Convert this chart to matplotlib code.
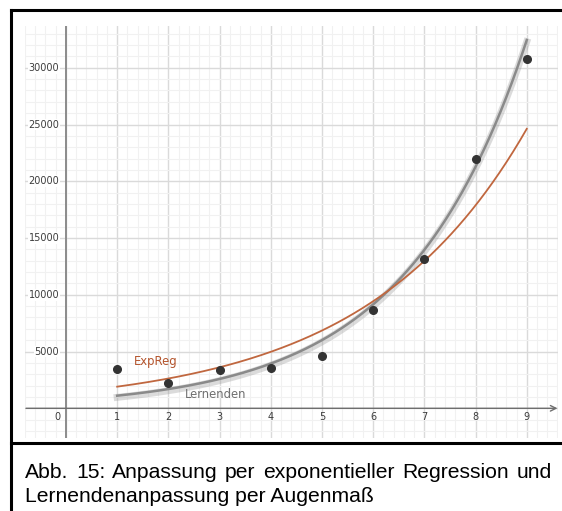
import numpy as np
import matplotlib.pyplot as plt
from matplotlib.lines import Line2D
import matplotlib.patheffects as pe

# data
x_vals = [1, 2, 3, 4, 5, 6, 7, 8, 9]
y_vals = [3460, 2260, 3350, 3580, 4590, 8670, 13170, 21960, 30800]

lern_a = 729
lern_b = 1.5246

x_ticks = [0, 1, 2, 3, 4, 5, 6, 7, 8, 9]
y_ticks = [5000, 10000, 15000, 20000, 25000, 30000]

caption1 = "Abb. 15: Anpassung per exponentieller Regression und"
caption2 = "Lernendenanpassung per Augenmaß"

# exponential regression (fit ln y linearly, like ExpReg)
slope, inter = np.polyfit(x_vals, np.log(y_vals), 1)
exp_a, exp_b = np.exp(inter), np.exp(slope)

W, H = 562, 511
fig = plt.figure(figsize=(W / 100, H / 100), dpi=100)
ax = fig.add_axes([25 / W, 1 - 438 / H, 533 / W, 412 / H])
ax.set_xlim(-0.78, 9.61)
ax.set_ylim(-2616, 33680)

# grid
ax.set_xticks(np.arange(-0.8, 9.7, 0.2), minor=True)
ax.set_yticks(np.arange(-2000, 34000, 1000), minor=True)
ax.set_xticks(np.arange(0, 10, 1))
ax.set_yticks(np.arange(0, 35000, 5000))
ax.grid(which='major', color='#dadada', lw=1.0)
ax.grid(which='minor', color='#f1f1f1', lw=0.8)
ax.tick_params(which='both', length=0, labelbottom=False, labelleft=False)
ax.set_axisbelow(True)
for s in ax.spines.values():
    s.set_visible(False)

# axes
ax.axvline(0, color='#8c8c8c', lw=1.4, zorder=2)
ax.annotate('', xy=(9.6, 0), xytext=(-0.78, 0),
            arrowprops=dict(arrowstyle='->', color='#6e6e6e', lw=1.0,
                            shrinkA=0, shrinkB=0), zorder=2)

for t in x_ticks:
    xx = -0.16 if t == 0 else t
    ax.text(xx, -740, str(t), ha='center', va='center', fontsize=7,
            color='#3c3c3c')
for t in y_ticks:
    ax.text(-0.13, t, str(t), ha='right', va='center', fontsize=7,
            color='#3c3c3c',
            bbox=dict(facecolor='white', edgecolor='none', pad=0.6))

xs = np.linspace(1, 9, 300)
ax.plot(xs, lern_a * lern_b ** xs, color='#8a8a8a', lw=1.8, zorder=3,
        path_effects=[pe.SimpleLineShadow(offset=(0, -1.2), shadow_color='#9a9a9a',
                                          alpha=0.35, linewidth=5),
                      pe.Normal()])
ax.plot(xs, exp_a * exp_b ** xs, color='#c0673f', lw=1.3, zorder=4)
ax.plot(x_vals, y_vals, 'o', color='#333333', ms=5.5, zorder=5)

ax.text(1.33, 4150, "ExpReg", color='#b4542c', fontsize=8.4, va='center')
ax.text(2.32, 1250, "Lernenden", color='#6f6f6f', fontsize=8.4, va='center')

# frame lines
fig.add_artist(Line2D([11 / W, 1], [1 - 10 / H] * 2, color='black', lw=2.2))
fig.add_artist(Line2D([11 / W, 11 / W], [1 - 10 / H, 0], color='black', lw=2.2))
fig.add_artist(Line2D([11 / W, 1], [1 - 443 / H] * 2, color='black', lw=2.2))

# caption, first line justified between x=25 and x=552
cap_size = 15.2
renderer = fig.canvas.get_renderer()


def text_width(s):
    t = fig.text(0, 0, s, fontsize=cap_size, family='Liberation Sans')
    w = t.get_window_extent(renderer).width
    t.remove()
    return w


words = caption1.split()
full = text_width(caption1)
extra = (552 - 25 - full) / (len(words) - 1)
for i, w in enumerate(words):
    start = text_width(" ".join(words[:i + 1])) - text_width(w) if i else 0
    fig.text((25 + start + i * extra) / W, 1 - 478 / H, w, fontsize=cap_size,
             family='Liberation Sans', va='baseline', ha='left')
fig.text(25 / W, 1 - 502 / H, caption2, fontsize=cap_size, family='Liberation Sans',
         va='baseline', ha='left')

fig.savefig('out.png', dpi=100)
